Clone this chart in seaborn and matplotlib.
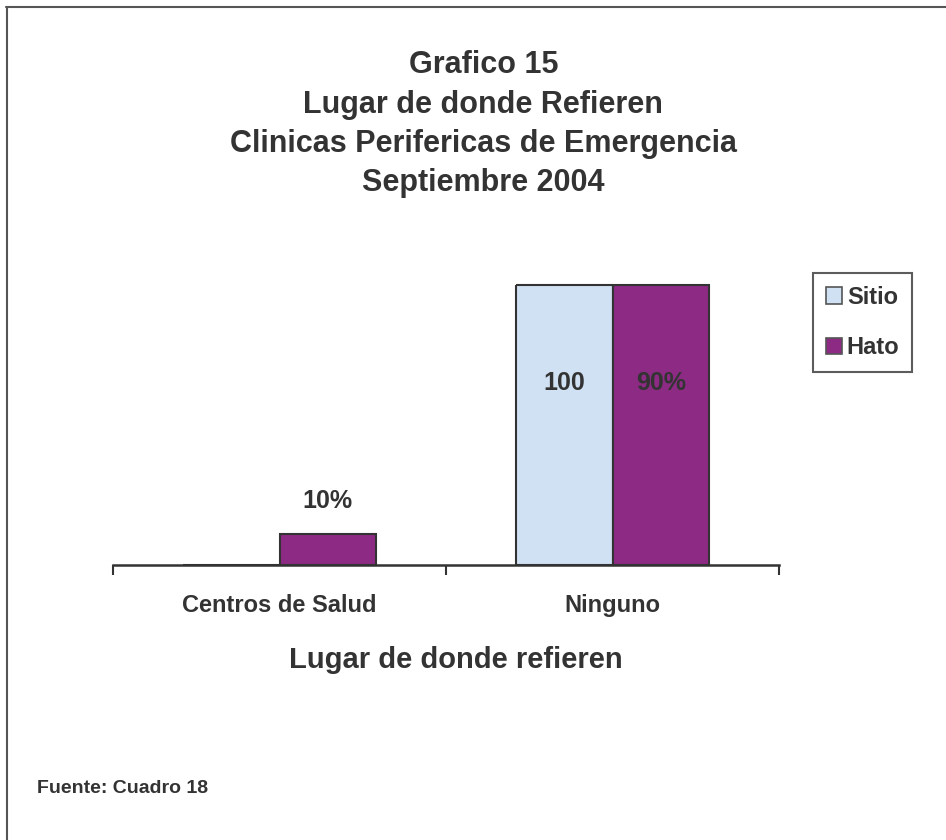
import matplotlib
matplotlib.use("Agg")
import matplotlib.pyplot as plt
import seaborn as sns
import pandas as pd
from matplotlib.lines import Line2D

categories = ["Centros de Salud", "Ninguno"]
series_names = ["Sitio", "Hato"]
sitio_values = [0, 100]
hato_values = [10, 90]
sitio_labels = ["", "100"]
hato_labels = ["10%", "90%"]
colors = ["#cfe1f2", "#8c2a84"]

title = "Grafico 15\nLugar de donde Refieren\nClinicas Perifericas de Emergencia\nSeptiembre 2004"
xlabel = "Lugar de donde refieren"
source = "Fuente: Cuadro 18"

sns.set_theme(style="white")
plt.rcParams["font.family"] = ["Liberation Sans", "DejaVu Sans"]
plt.rcParams["font.weight"] = "bold"

df = pd.DataFrame({
    "Lugar": categories * 2,
    "Serie": [series_names[0]] * len(categories) + [series_names[1]] * len(categories),
    "Valor": sitio_values + hato_values,
})

fig = plt.figure(figsize=(9.46, 8.40), dpi=100)
fig.patch.set_facecolor("white")
ax = fig.add_axes([0.1195, 0.3274, 0.704, 0.3333])

sns.barplot(data=df, x="Lugar", y="Valor", hue="Serie", order=categories,
            hue_order=series_names, palette=colors, width=0.58, saturation=1,
            edgecolor="#333333", linewidth=1.5, ax=ax, legend=True)

ax.set_ylim(0, 90)
ax.set_xlim(-0.5, len(categories) - 0.5)
ax.set_yticks([])
for side in ["top", "right", "left"]:
    ax.spines[side].set_visible(False)
ax.spines["bottom"].set_color("#333333")
ax.spines["bottom"].set_linewidth(1.8)
ax.set_xticks([-0.5, 0.5, 1.5], minor=True)
ax.tick_params(axis="x", which="minor", bottom=True, length=7, width=1.5, color="#333333", direction="out")
ax.tick_params(axis="x", which="major", bottom=False, labelsize=17, labelcolor="#333333", pad=15)
for t in ax.get_xticklabels():
    t.set_fontweight("bold")
ax.set_xlabel(xlabel, fontsize=21, fontweight="bold", color="#333333", labelpad=21)
ax.xaxis.label.set_x(0.515)
ax.set_ylabel("")

top = ax.get_ylim()[1]
for ci, (cont, labels) in enumerate(zip(ax.containers, [sitio_labels, hato_labels])):
    for patch, lab in zip(cont.patches, labels):
        h = patch.get_height()
        x0 = patch.get_x()
        w = patch.get_width()
        if h <= top:
            patch.set_clip_on(False)
        else:
            ax.hlines(top, x0, x0 + w, colors="#333333", linewidth=1.5, clip_on=False)
        if not lab:
            continue
        xc = x0 + w / 2
        if h >= top:
            ax.text(xc, top * 0.65, lab, ha="center", va="center", fontsize=18,
                    fontweight="bold", color="#333333")
        else:
            ax.annotate(lab, (xc, h), xytext=(0, 15), textcoords="offset points",
                        ha="center", va="bottom", fontsize=18, fontweight="bold",
                        color="#333333")

leg = ax.legend(loc="upper left", bbox_to_anchor=(0.859, 0.675), bbox_transform=fig.transFigure,
                frameon=True, fancybox=False, fontsize=17, handlelength=0.7, handleheight=0.7,
                handletextpad=0.2, labelspacing=1.15, borderpad=0.55, borderaxespad=0)
leg.get_frame().set_edgecolor("#333333")
leg.get_frame().set_linewidth(1.5)
for t in leg.get_texts():
    t.set_fontweight("bold")
    t.set_color("#333333")
for h in leg.legend_handles:
    h.set_edgecolor("#555555")
    h.set_linewidth(1.2)

fig.text(0.511, 0.940, title, ha="center", va="top", fontsize=22, fontweight="bold",
         color="#333333", linespacing=1.40)
fig.text(0.039, 0.061, source, ha="left", va="center", fontsize=14, fontweight="bold", color="#333333")

fig.add_artist(Line2D([0.006, 1.0], [0.9917, 0.9917], transform=fig.transFigure, color="#555555", linewidth=1.5))
fig.add_artist(Line2D([0.0075, 0.0075], [0.0, 0.9917], transform=fig.transFigure, color="#555555", linewidth=1.5))

fig.savefig("out.png", dpi=100, facecolor="white")
